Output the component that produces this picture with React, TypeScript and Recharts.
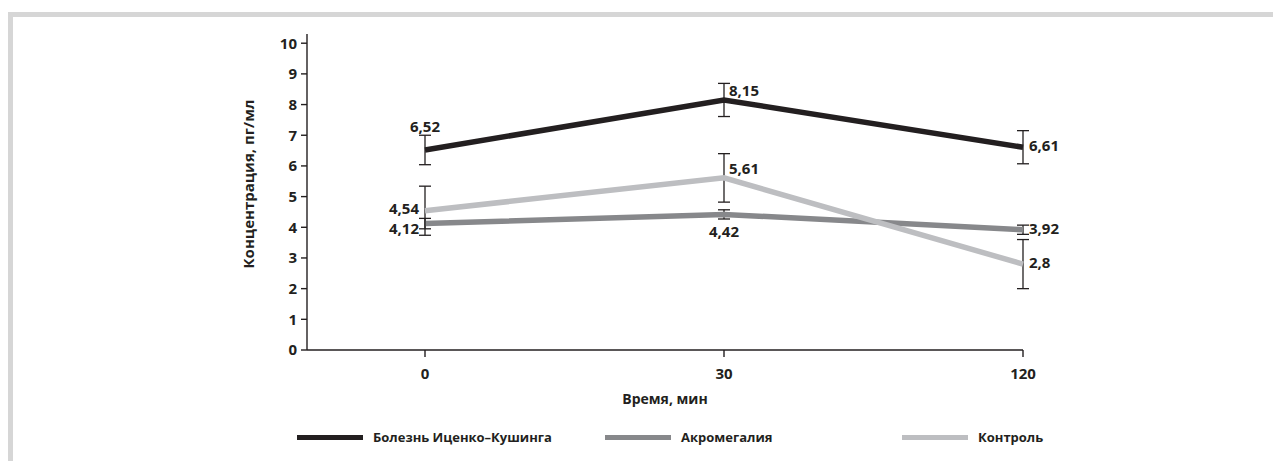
import React from "react";
import { LineChart, Line, XAxis, YAxis, ErrorBar, LabelList, Legend } from "recharts";

const times = ["0", "30", "120"];
const cushing = [6.52, 8.15, 6.61];
const cushingErr = [0.48, 0.54, 0.54];
const acromegaly = [4.12, 4.42, 3.92];
const acromegalyErr = [0.17, 0.15, 0.15];
const control = [4.54, 5.61, 2.8];
const controlErr = [0.8, 0.79, 0.8];
const yTicks = [0, 1, 2, 3, 4, 5, 6, 7, 8, 9, 10];

const seriesNames = ["Болезнь Иценко–Кушинга", "Акромегалия", "Контроль"];
const seriesColors = ["#231f20", "#87888b", "#bdbec1"];

// where each value label sits relative to its point
const cushingPlace = ["top", "rightUp", "right"];
const acromegalyPlace = ["leftDown", "bottom", "right"];
const controlPlace = ["leftUp", "rightUp", "right"];

const data = times.map((t, i) => ({
  time: t,
  cushing: cushing[i],
  cushingErr: cushingErr[i],
  acromegaly: acromegaly[i],
  acromegalyErr: acromegalyErr[i],
  control: control[i],
  controlErr: controlErr[i],
}));

const ink = "#231f20";
const font = "'Open Sans', sans-serif";

const fmt = (v: number) => String(v).replace(".", ",");

const makeLabel = (places: string[]) => (props: any) => {
  const { x, y, value, index } = props;
  const p = places[index];
  let tx = x;
  let ty = y;
  let anchor = "middle";
  if (p === "top") ty = y - 24;
  else if (p === "bottom") ty = y + 17;
  else if (p === "leftDown") {
    tx = x - 6;
    ty = y + 4;
    anchor = "end";
  } else if (p === "leftUp") {
    tx = x - 6;
    ty = y - 3;
    anchor = "end";
  } else if (p === "right") {
    tx = x + 6;
    ty = y - 2;
    anchor = "start";
  } else if (p === "rightUp") {
    tx = x + 5;
    ty = y - 10;
    anchor = "start";
  }
  return (
    <text
      x={tx}
      y={ty}
      textAnchor={anchor}
      dominantBaseline="central"
      fill={ink}
      fontSize={15}
      fontWeight={700}
      fontFamily={font}
    >
      {fmt(value)}
    </text>
  );
};

const legendLefts = [289, 597, 894];

const renderLegend = () => (
  <div style={{ position: "relative", width: 1273, height: 18 }}>
    {seriesNames.map((name, i) => (
      <div
        key={name}
        style={{
          position: "absolute",
          left: legendLefts[i],
          top: 0,
          height: 18,
          display: "flex",
          alignItems: "center",
          whiteSpace: "nowrap",
        }}
      >
        <span style={{ display: "inline-block", width: 66, height: 5, background: seriesColors[i] }} />
        <span
          style={{
            marginLeft: 10,
            fontFamily: font,
            fontWeight: 700,
            fontSize: 13,
            color: ink,
          }}
        >
          {name}
        </span>
      </div>
    ))}
  </div>
);

export default function App() {
  return (
    <div style={{ position: "relative", width: 1273, height: 453, background: "#fff" }}>
      <div
        style={{
          position: "absolute",
          top: 4,
          left: 0,
          right: 0,
          bottom: 0,
          borderTop: "5px solid #d6d6d6",
          borderLeft: "5px solid #d6d6d6",
        }}
      />
      <div style={{ position: "absolute", top: 0, left: 0 }}>
        <LineChart
          width={1273}
          height={453}
          data={data}
          margin={{ top: 26, right: 258, left: 239, bottom: 81 }}
        >
          <XAxis
            dataKey="time"
            type="category"
            padding={{ left: 118, right: 0 }}
            height={30}
            stroke={ink}
            strokeWidth={1.4}
            tickSize={7}
            tickMargin={11}
            tick={{ fill: ink, fontSize: 15, fontWeight: 700, fontFamily: font }}
            tickLine={{ stroke: ink }}
            label={{
              content: (p: any) => {
                const vb = p.viewBox;
                return (
                  <text
                    x={vb.x + vb.width / 2}
                    y={vb.y + 48}
                    textAnchor="middle"
                    dominantBaseline="central"
                    fill={ink}
                    fontSize={14}
                    fontWeight={700}
                    fontFamily={font}
                  >
                    Время, мин
                  </text>
                );
              },
            }}
          />
          <YAxis
            type="number"
            domain={[0, 10.3]}
            ticks={yTicks}
            interval={0}
            width={60}
            stroke={ink}
            strokeWidth={1.4}
            tickSize={6}
            tickMargin={4}
            tick={{ fill: ink, fontSize: 15, fontWeight: 700, fontFamily: font }}
            label={{
              content: (p: any) => {
                const vb = p.viewBox;
                const cx = vb.x + 1;
                const cy = vb.y + vb.height / 2 - 8;
                return (
                  <text
                    x={cx}
                    y={cy}
                    transform={`rotate(-90, ${cx}, ${cy})`}
                    textAnchor="middle"
                    dominantBaseline="central"
                    fill={ink}
                    fontSize={15}
                    fontWeight={700}
                    fontFamily={font}
                  >
                    Концентрация, пг/мл
                  </text>
                );
              },
            }}
          />
          <Legend
            verticalAlign="middle"
            align="center"
            wrapperStyle={{ top: 420, left: 0, width: 1273 }}
            content={renderLegend}
          />
          <Line
            type="linear"
            dataKey="cushing"
            stroke={seriesColors[0]}
            strokeWidth={5.5}
            dot={false}
            isAnimationActive={false}
          >
            <ErrorBar dataKey="cushingErr" direction="y" width={6} strokeWidth={1.3} stroke={ink} />
            <LabelList dataKey="cushing" content={makeLabel(cushingPlace)} />
          </Line>
          <Line
            type="linear"
            dataKey="acromegaly"
            stroke={seriesColors[1]}
            strokeWidth={5.5}
            dot={false}
            isAnimationActive={false}
          >
            <ErrorBar dataKey="acromegalyErr" direction="y" width={6} strokeWidth={1.3} stroke={ink} />
            <LabelList dataKey="acromegaly" content={makeLabel(acromegalyPlace)} />
          </Line>
          <Line
            type="linear"
            dataKey="control"
            stroke={seriesColors[2]}
            strokeWidth={5.5}
            dot={false}
            isAnimationActive={false}
          >
            <ErrorBar dataKey="controlErr" direction="y" width={6} strokeWidth={1.3} stroke={ink} />
            <LabelList dataKey="control" content={makeLabel(controlPlace)} />
          </Line>
        </LineChart>
      </div>
    </div>
  );
}
